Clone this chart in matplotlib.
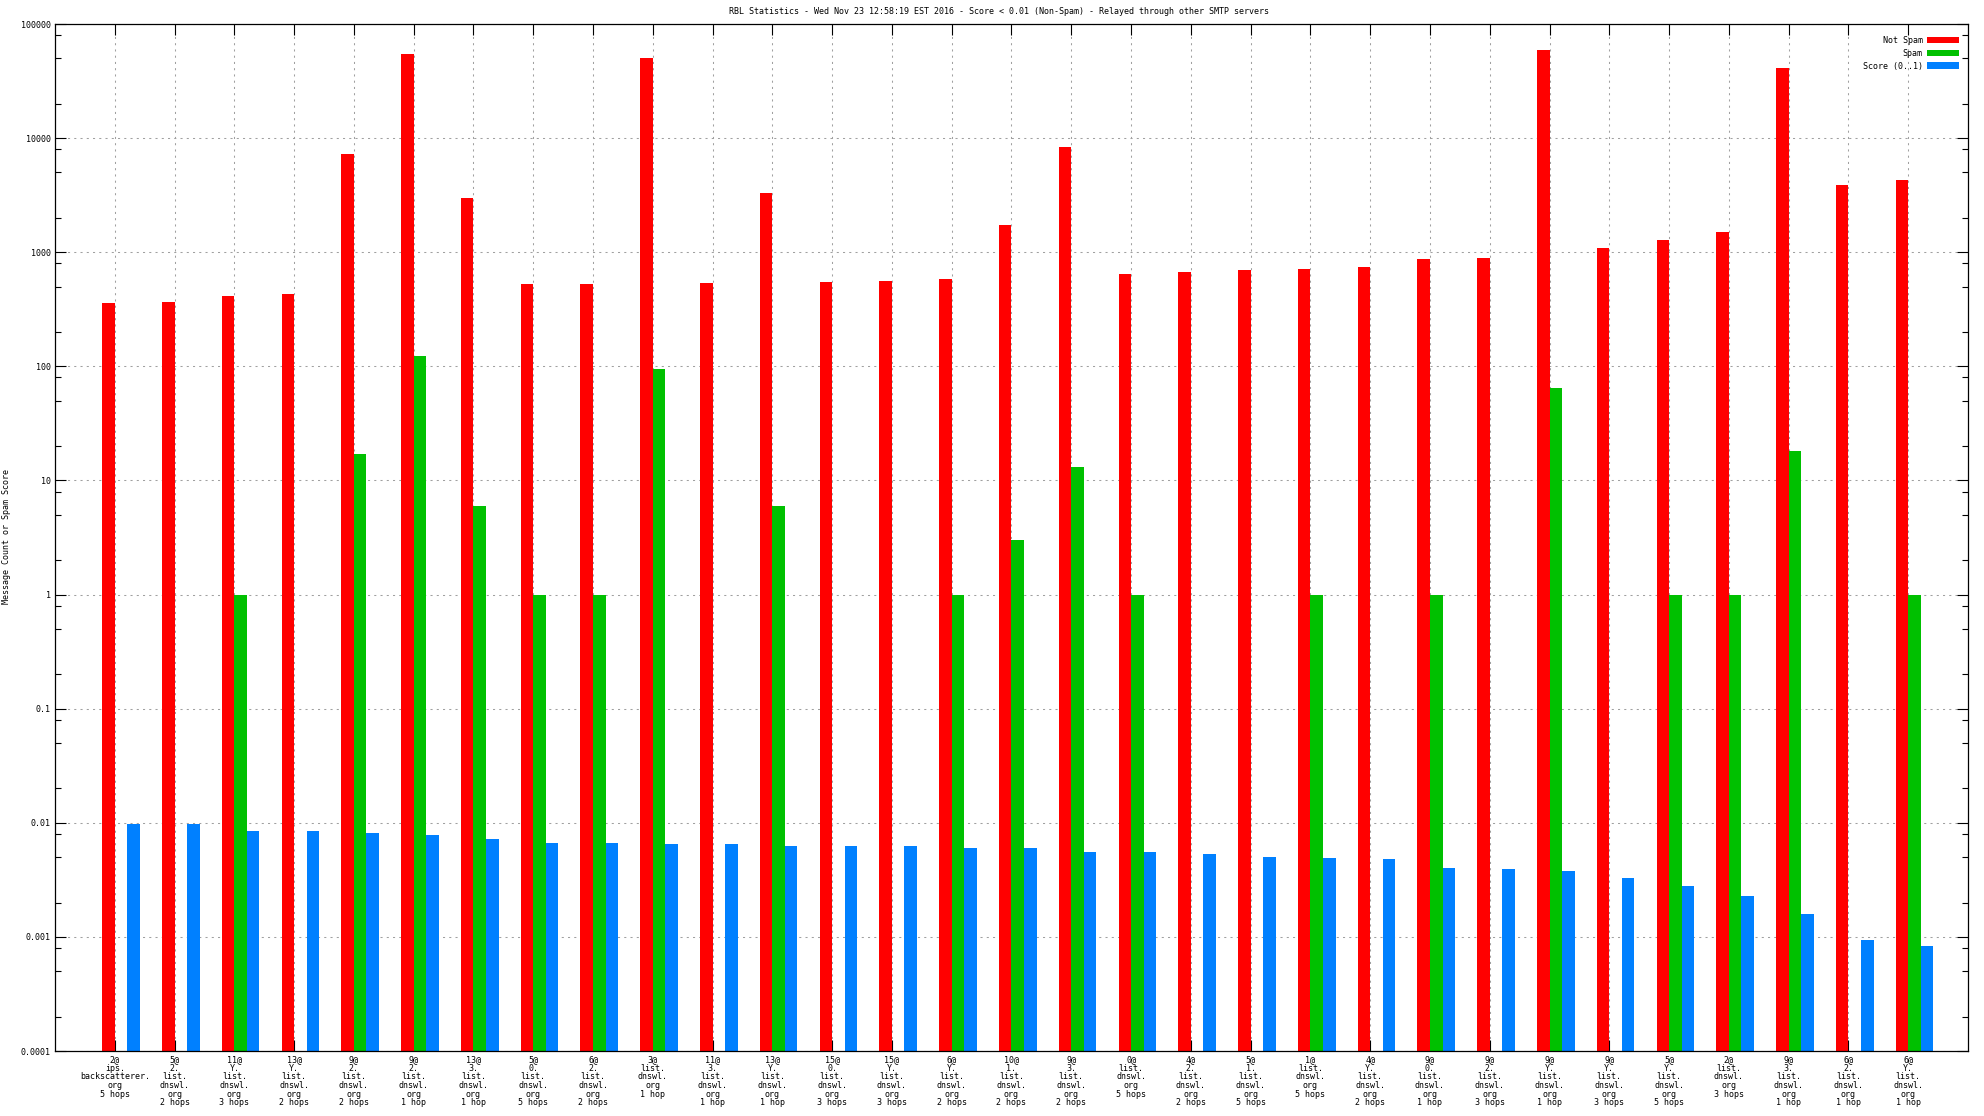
import numpy as np
import matplotlib
matplotlib.use('Agg')
import matplotlib.pyplot as plt
from matplotlib.ticker import FixedLocator, LogLocator, NullFormatter

# RBL statistics, one group per server/hop combination
labels = [
    '2@\nips.\nbackscatterer.\norg\n5 hops',
    '5@\n2.\nlist.\ndnswl.\norg\n2 hops',
    '11@\nY.\nlist.\ndnswl.\norg\n3 hops',
    '13@\nY.\nlist.\ndnswl.\norg\n2 hops',
    '9@\n2.\nlist.\ndnswl.\norg\n2 hops',
    '9@\n2.\nlist.\ndnswl.\norg\n1 hop',
    '13@\n3.\nlist.\ndnswl.\norg\n1 hop',
    '5@\n0.\nlist.\ndnswl.\norg\n5 hops',
    '6@\n2.\nlist.\ndnswl.\norg\n2 hops',
    '3@\nlist.\ndnswl.\norg\n1 hop',
    '11@\n3.\nlist.\ndnswl.\norg\n1 hop',
    '13@\nY.\nlist.\ndnswl.\norg\n1 hop',
    '15@\n0.\nlist.\ndnswl.\norg\n3 hops',
    '15@\nY.\nlist.\ndnswl.\norg\n3 hops',
    '6@\nY.\nlist.\ndnswl.\norg\n2 hops',
    '10@\n1.\nlist.\ndnswl.\norg\n2 hops',
    '9@\n3.\nlist.\ndnswl.\norg\n2 hops',
    '0@\nlist.\ndnswl.\norg\n5 hops',
    '4@\n2.\nlist.\ndnswl.\norg\n2 hops',
    '5@\n1.\nlist.\ndnswl.\norg\n5 hops',
    '1@\nlist.\ndnswl.\norg\n5 hops',
    '4@\nY.\nlist.\ndnswl.\norg\n2 hops',
    '9@\n0.\nlist.\ndnswl.\norg\n1 hop',
    '9@\n2.\nlist.\ndnswl.\norg\n3 hops',
    '9@\nY.\nlist.\ndnswl.\norg\n1 hop',
    '9@\nY.\nlist.\ndnswl.\norg\n3 hops',
    '5@\nY.\nlist.\ndnswl.\norg\n5 hops',
    '2@\nlist.\ndnswl.\norg\n3 hops',
    '9@\n3.\nlist.\ndnswl.\norg\n1 hop',
    '6@\n2.\nlist.\ndnswl.\norg\n1 hop',
    '6@\nY.\nlist.\ndnswl.\norg\n1 hop',
]

not_spam = [357, 366, 416, 427, 7280, 54800, 2980, 524, 524, 50800,
            537, 3300, 551, 565, 580, 1740, 8280, 643, 677, 694,
            712, 749, 873, 896, 59200, 1100, 1282, 1493, 41400, 3846,
            4260]
spam = [0, 0, 1, 0, 17, 122, 6, 1, 1, 95,
        0, 6, 0, 0, 1, 3, 13, 1, 0, 0,
        1, 0, 1, 0, 64, 0, 1, 1, 18, 0,
        1]
score = [0.0098, 0.0097, 0.0084, 0.0084, 0.0082, 0.0078, 0.0072, 0.0067, 0.0067, 0.0065,
         0.0065, 0.0063, 0.0063, 0.0063, 0.0060, 0.0060, 0.0056, 0.0055, 0.0053, 0.0050,
         0.0049, 0.0048, 0.0040, 0.0039, 0.0038, 0.0033, 0.0028, 0.0023, 0.0016, 0.00093,
         0.00084]

ytick_vals = [1e-4, 1e-3, 1e-2, 1e-1, 1, 10, 100, 1000, 10000, 100000]
ytick_labels = ['0.0001', '0.001', '0.01', '0.1', '1', '10', '100', '1000', '10000', '100000']

title = 'RBL Statistics - Wed Nov 23 12:58:19 EST 2016 - Score < 0.01 (Non-Spam) - Relayed through other SMTP servers'

plt.rcParams['font.family'] = 'DejaVu Sans Mono'
fs = 6

fig = plt.figure(figsize=(19.84, 11.16), dpi=100)
ax = fig.add_axes([0.02772, 0.05824, 0.96421, 0.92025])

x = np.arange(len(labels))
w = 0.21
ax.bar(x - w, not_spam, w, align='edge', color='#ff0000', label='Not Spam')
ax.bar(x, spam, w, align='edge', color='#00c000', label='Spam')
ax.bar(x + w, score, w, align='edge', color='#0080ff', label='Score (0..1)')

ax.set_yscale('log')
ax.set_xlim(-1, 31)
ax.set_ylim(1e-4, 1e5)

ax.set_xticks(x)
ax.set_xticklabels(labels, fontsize=fs, linespacing=0.95, va='top', ha='center')
ax.yaxis.set_major_locator(FixedLocator(ytick_vals))
ax.set_yticklabels(ytick_labels, fontsize=fs)
ax.yaxis.set_minor_locator(LogLocator(base=10, subs=(2, 5, 8), numticks=50))
ax.yaxis.set_minor_formatter(NullFormatter())

ax.tick_params(which='major', direction='in', length=8, width=0.8, top=True, right=True, pad=3)
ax.tick_params(which='minor', direction='in', length=4, width=0.8, top=False, right=True)
for s in ax.spines.values():
    s.set_linewidth(0.9)

ax.set_axisbelow(True)
ax.grid(True, which='major', color='#a0a0a0', linestyle=(0, (2, 4)), linewidth=0.75)

leg = ax.legend(loc='upper right', bbox_to_anchor=(1959 / 1984, 1 - 36 / 1116),
                bbox_transform=fig.transFigure, frameon=False, markerfirst=False,
                fontsize=fs, handlelength=3.8, handleheight=0.85, handletextpad=0.55,
                labelspacing=0.45, borderpad=0, borderaxespad=0)

fig.text(0.5036, 0.990, title, fontsize=fs, ha='center', va='center')
fig.text(0.0034, 0.519, 'Message Count or Spam Score', fontsize=fs, rotation=90,
         ha='center', va='center')

plt.savefig('out.png', dpi=100)
